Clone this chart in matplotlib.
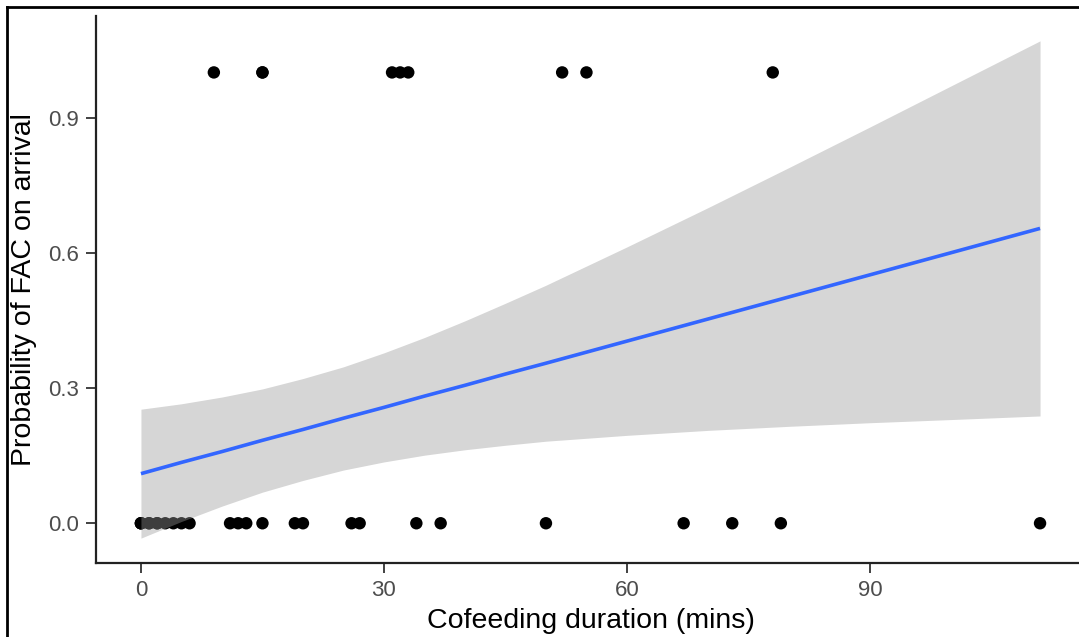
import numpy as np
import matplotlib.pyplot as plt
from matplotlib.lines import Line2D

plt.rcParams['font.family'] = ['Liberation Sans', 'DejaVu Sans']

# Cofeeding duration (mins) and whether FAC occurred on arrival
dur_yes = [9, 15, 15, 31, 32, 33, 52, 55, 78]
dur_no = [0, 0, 0, 1, 1, 2, 2, 3, 4, 5, 6, 11, 12, 13, 15, 19, 20,
          26, 27, 34, 37, 50, 67, 73, 79, 111]

# fitted line and 95% band
fit_x = [0, 5, 10, 15, 20, 25, 30, 35, 40, 45, 50, 60, 70, 80, 90, 100, 111]
fit_y = [0.110, 0.135, 0.159, 0.184, 0.208, 0.233, 0.257, 0.282, 0.306, 0.331, 0.355,
         0.404, 0.453, 0.502, 0.551, 0.600, 0.654]
band_lo = [-0.033, 0.004, 0.038, 0.069, 0.095, 0.118, 0.136, 0.151, 0.163, 0.173, 0.182,
           0.195, 0.206, 0.215, 0.223, 0.230, 0.238]
band_hi = [0.253, 0.265, 0.280, 0.298, 0.321, 0.347, 0.378, 0.412, 0.449, 0.488, 0.528,
           0.613, 0.700, 0.789, 0.879, 0.970, 1.070]

x_ticks = [0, 30, 60, 90]
y_ticks = [0.0, 0.3, 0.6, 0.9]

x = np.array(dur_yes + dur_no, dtype=float)
y = np.array([1] * len(dur_yes) + [0] * len(dur_no), dtype=float)

fig = plt.figure(figsize=(10.79, 6.37), dpi=100)
ax = fig.add_axes([96 / 1079, 74 / 637, 989 / 1079, 547 / 637])

ax.scatter(x, y, s=80, color='black', edgecolors='none', zorder=2)
ax.fill_between(fit_x, band_lo, band_hi, color='#999999', alpha=0.4, linewidth=0, zorder=3)
ax.plot(fit_x, fit_y, color='#3366FF', linewidth=2.6, zorder=4, solid_capstyle='butt')

# ggplot-style 5% expansion
xr = x.max() - x.min()
ax.set_xlim(x.min() - 0.05 * xr, x.max() + 0.05 * xr)
ymin, ymax = min(min(band_lo), 0), max(max(band_hi), 1)
yr = ymax - ymin
ax.set_ylim(ymin - 0.05 * yr, ymax + 0.05 * yr)

ax.set_xticks(x_ticks)
ax.set_yticks(y_ticks)
ax.set_yticklabels([f'{v:.1f}' for v in y_ticks])
ax.tick_params(colors='#333333', labelcolor='#4D4D4D', labelsize=16, length=7, width=1.3, pad=5)

for side in ['top', 'right']:
    ax.spines[side].set_visible(False)
for side in ['left', 'bottom']:
    ax.spines[side].set_color('#222222')
    ax.spines[side].set_linewidth(1.6)

ax.set_xlabel('Cofeeding duration (mins)', fontsize=20.5, color='black', labelpad=5)
ax.set_ylabel('Probability of FAC on arrival', fontsize=20.5, color='black', labelpad=8)

# screenshot frame (top and left edges)
fig.add_artist(Line2D([7 / 1079, 1], [1 - 7 / 637, 1 - 7 / 637], transform=fig.transFigure,
                      color='black', linewidth=2))
fig.add_artist(Line2D([7 / 1079, 7 / 1079], [0, 1 - 7 / 637], transform=fig.transFigure,
                      color='black', linewidth=2))

fig.savefig('out.png', dpi=100)
